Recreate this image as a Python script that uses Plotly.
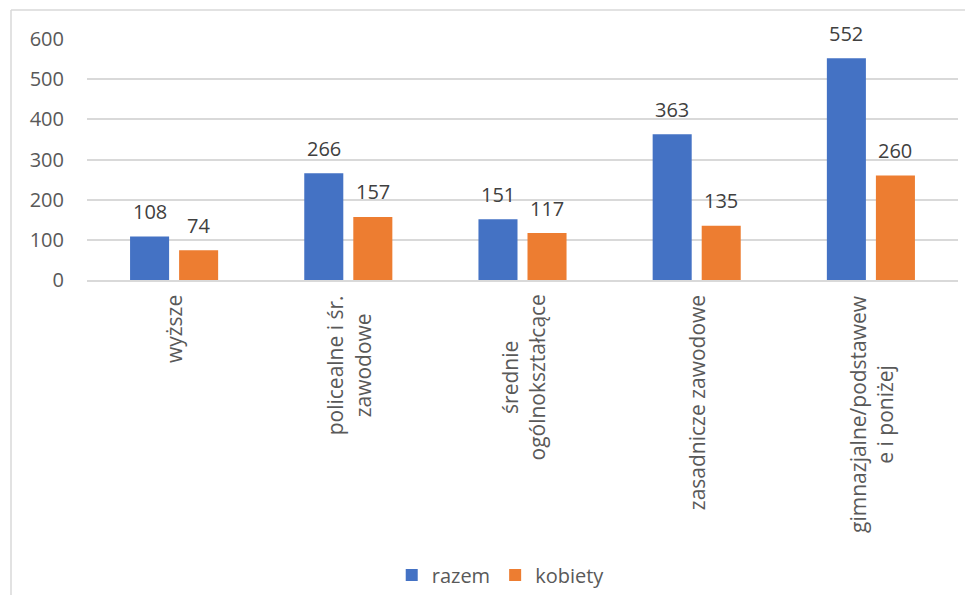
import plotly.graph_objects as go

categories = ["wyższe", "policealne i śr.<br>zawodowe", "średnie<br>ogólnokształcące",
              "zasadnicze zawodowe", "gimnazjalne/podstawew<br>e i poniżej"]
cat_keys = ["c1", "c2", "c3", "c4", "c5"]
razem = [108, 266, 151, 363, 552]
kobiety = [74, 157, 117, 135, 260]

BLUE = "#4472C4"
ORANGE = "#ED7D31"
GRID = "#D9D9D9"
TXT = "#595959"
LBL = "#404040"
FONT = "Open Sans"

fig = go.Figure()
fig.add_trace(go.Bar(x=cat_keys, y=razem, name="razem", marker_color=BLUE, marker_line_width=0))
fig.add_trace(go.Bar(x=cat_keys, y=kobiety, name="kobiety", marker_color=ORANGE, marker_line_width=0))

# data labels above bars
for series, shift in ((razem, -24.5), (kobiety, 24.5)):
    for k, v in zip(cat_keys, series):
        fig.add_annotation(x=k, y=v, text=str(v), showarrow=False, xshift=shift, yshift=25,
                           yanchor="middle", font=dict(size=20, color=LBL, family=FONT))

# rotated category labels
for k, label in zip(cat_keys, categories):
    fig.add_annotation(x=k, y=0, text=label, showarrow=False, textangle=-90, align="center",
                       yanchor="top", yshift=-13, xshift=0, font=dict(size=21, color=TXT, family=FONT))

# chart border (top and left edges)
bx = (11 - 87) / 871
by = (280 - 10) / 241
fig.add_shape(type="line", xref="paper", yref="paper", x0=bx, x1=1.03, y0=by, y1=by,
              line=dict(color=GRID, width=1.5))
fig.add_shape(type="line", xref="paper", yref="paper", x0=bx, x1=bx, y0=by, y1=-1.4,
              line=dict(color=GRID, width=1.5))

fig.update_layout(
    width=957, height=587,
    margin=dict(l=79, r=7, t=31, b=315, autoexpand=False),
    paper_bgcolor="white", plot_bgcolor="white",
    font=dict(family=FONT, size=20, color=TXT),
    bargap=0.437, bargroupgap=0.204,
    showlegend=True,
    legend=dict(orientation="h", x=0.475, xanchor="center", y=-1.224, yanchor="middle",
                font=dict(size=20, color=TXT, family=FONT), itemwidth=30),
)
fig.update_xaxes(showticklabels=False, showgrid=False, zeroline=False, showline=True,
                 linecolor=GRID, linewidth=1.5)
fig.update_yaxes(range=[0, 600], dtick=100, showgrid=True, gridcolor=GRID, gridwidth=1.5,
                 zeroline=False, ticklabelstandoff=22, tickfont=dict(size=20, color=TXT, family=FONT))

fig.write_html("out.html")
